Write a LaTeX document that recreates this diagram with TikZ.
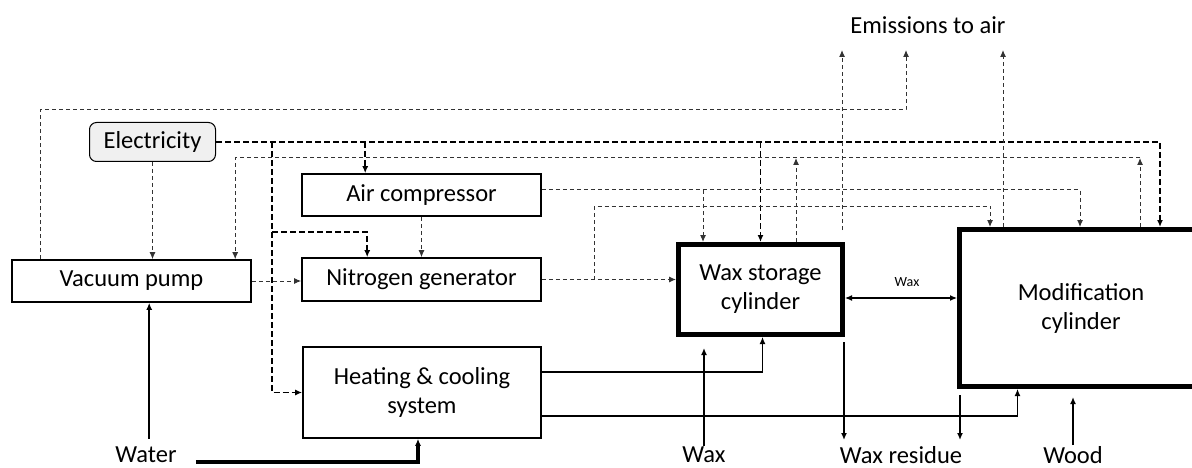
\documentclass[tikz,border=0pt]{standalone}
\usepackage{fontspec}
\setmainfont{Carlito}
\usetikzlibrary{arrows.meta,positioning,calc}

\begin{document}
\begin{tikzpicture}[
    x=1pt, y=-1pt,
    font=\fontsize{24.5}{29}\selectfont,
    >={Latex[length=7pt,width=6pt]},
    box/.style={draw, line width=1.6pt, align=center, inner sep=0pt},
    cyl/.style={draw, line width=5pt, align=center, inner sep=0pt},
    src/.style={box, rounded corners=7pt, fill=gray!12, line width=1pt},
    lbl/.style={inner sep=1pt},
    pow/.style={->, line width=1.8pt, dash pattern=on 6pt off 3pt},
    ctl/.style={->, line width=1pt, black!80, dash pattern=on 4pt off 3pt},
    flow/.style={->, line width=1.2pt},
    feed/.style={->, line width=2pt},
    waterln/.style={->, line width=3.5pt}
]
\useasboundingbox (0,0) rectangle (1192,468);
\clip (0,0) rectangle (1192,468);

% ------------------------
% Units
% ------------------------
\node[src, minimum width=126pt, minimum height=39pt] (elec) at (152.5,142) {Electricity};
\node[box, minimum width=239pt, minimum height=42pt] (vac) at (131.5,281) {Vacuum pump};
\node[box, minimum width=239pt, minimum height=42pt] (air) at (421.5,195) {Air compressor};
\node[box, minimum width=239pt, minimum height=43pt] (nitro) at (421.5,279.5) {Nitrogen generator};
\node[box, minimum width=238pt, minimum height=91pt] (heat) at (422,392.5) {Heating \& cooling\\system};
\node[cyl, minimum width=164pt, minimum height=90pt] (wax) at (760.5,289.5) {Wax storage\\cylinder};
\node[cyl, minimum width=243pt, minimum height=157pt] (mod) at (1081,308) {Modification\\cylinder};

% ------------------------
% Inputs and outputs
% ------------------------
\node[lbl] (emis) at (928,25) {Emissions to air};
\node[lbl] (water) at (146,455) {Water};
\node[lbl] (waxin) at (704,455) {Wax};
\node[lbl] (resid) at (901,455) {Wax residue};
\node[lbl] (wood) at (1073,455) {Wood};
\node[lbl, font=\fontsize{14}{16}\selectfont] (waxlink) at (907,282) {Wax};

% ------------------------
% Taps and bus levels
% ------------------------
\coordinate (emisY) at (0,50);
\coordinate (vent) at (906,110);
\coordinate (retY) at (0,158);
\coordinate (nbus) at (594,206);
\coordinate (ntap) at (0,232);
\coordinate (etap) at (272,0);
\coordinate (resY) at (0,440);

\coordinate (vacvent) at ([xshift=29pt]vac.north west);
\coordinate (vacret) at ([xshift=224pt]vac.north west);
\coordinate (vacwater) at ([xshift=138pt]vac.south west);
\coordinate (aircin) at ([xshift=64pt]air.north west);
\coordinate (airout) at ([yshift=5pt]air.east);
\coordinate (nitroin) at ([xshift=66pt]nitro.north west);
\coordinate (heatwax) at ([yshift=20.5pt]heat.east);
\coordinate (heatmod) at ([yshift=-23.5pt]heat.east);
\coordinate (heatwater) at ([xshift=-4pt]heat.south);
\coordinate (waxair) at ([xshift=27pt]wax.north west);
\coordinate (waxret) at ([xshift=120pt]wax.north west);
\coordinate (waxvent) at ([xshift=-3pt,yshift=12pt]wax.north east);
\coordinate (waxheat) at ([xshift=86.5pt]wax.south west);
\coordinate (waxres) at ([xshift=-1pt,yshift=-5pt]wax.south east);
\coordinate (waxgap) at ([yshift=-11pt]wax.south);
\coordinate (xch) at ([yshift=-8.5pt]wax.east);
\coordinate (modnitro) at ([xshift=33pt]mod.north west);
\coordinate (modvent) at ([xshift=46pt]mod.north west);
\coordinate (modair) at ([xshift=123pt]mod.north west);
\coordinate (modret) at ([xshift=183pt]mod.north west);
\coordinate (modpow) at ([xshift=203pt]mod.north west);
\coordinate (modheat) at ([xshift=60.5pt]mod.south west);
\coordinate (modres) at ([xshift=3pt,yshift=-6pt]mod.south west);
\coordinate (modgap) at ([yshift=-8pt]mod.south);
\coordinate (wsrc) at ([xshift=18pt,yshift=-7pt]water.east);
\coordinate (wup) at ([yshift=7pt]water.north);

% ------------------------
% Electricity
% ------------------------
\draw[pow] (elec.east) -| (modpow);
\draw[pow] (aircin |- elec.east) -- (aircin);
\draw[pow] (wax.north |- elec.east) -- (wax.north);
\draw[pow] (etap |- elec.east) |- (heat.west);
\draw[pow] (etap |- ntap) -| (nitroin);
\draw[ctl] (elec.south) -- (elec.south |- vac.north);

% ------------------------
% Emissions to air
% ------------------------
\draw[ctl] (vacvent) |- (vent) -- (vent |- emisY);
\draw[ctl] (waxvent) -- (waxvent |- emisY);
\draw[ctl] (modvent) -- (modvent |- emisY);

% ------------------------
% Vacuum return
% ------------------------
\draw[ctl] (waxret) -- (waxret |- retY);
\draw[ctl] (modret) -- (modret |- retY);
\draw[ctl] (modret |- retY) -| (vacret);

% ------------------------
% Compressed air and nitrogen
% ------------------------
\draw[ctl] (air.south) -- (air.south |- nitro.north);
\draw[ctl] (airout) -| (modair);
\draw[ctl] (waxair |- airout) -- (waxair);
\draw[ctl] (vac.east) -- (vac.east -| nitro.west);
\draw[ctl] (nitro.east) -- (nitro.east -| wax.west);
\draw[ctl] (nbus |- nitro.east) -- (nbus) -| (modnitro);

% ------------------------
% Heating, water and material flows
% ------------------------
\draw[flow] (heatwax) -| (waxheat);
\draw[flow] (heatmod) -| (modheat);
\draw[waterln] (wsrc) -| (heatwater);
\draw[feed] (vacwater |- wup) -- (vacwater);
\draw[feed] (waxin.north) -- (waxin.north |- waxgap);
\draw[feed] (waxres) -- (waxres |- resY);
\draw[feed] (modres) -- (modres |- resY);
\draw[feed] (wood.north) -- (wood.north |- modgap);
\draw[flow, <->] (xch) -- (xch -| mod.west);

\end{tikzpicture}
\end{document}
